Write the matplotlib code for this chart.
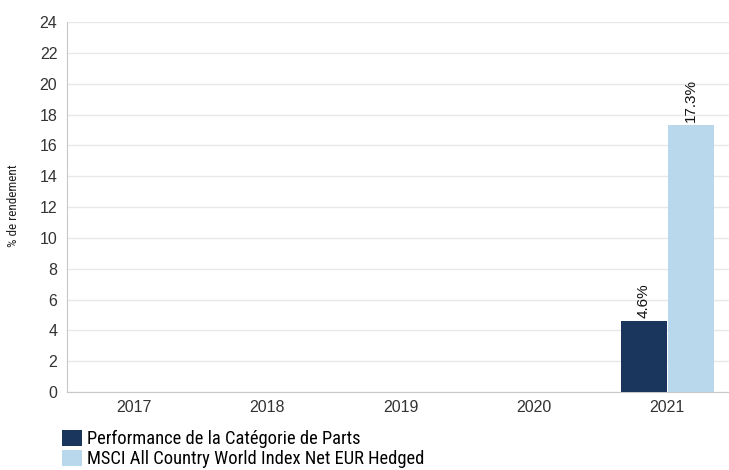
import matplotlib
matplotlib.use('Agg')
import matplotlib.pyplot as plt
from matplotlib.patches import Patch
import numpy as np

years = ['2017', '2018', '2019', '2020', '2021']
fund = [None, None, None, None, 4.6]
index = [None, None, None, None, 17.3]
series_names = ['Performance de la Catégorie de Parts',
                'MSCI All Country World Index Net EUR Hedged']
colors = ['#1b365d', '#b9d8ec']
yticks = list(range(0, 25, 2))

narrow = ['Roboto Condensed', 'IBM Plex Sans Condensed', 'DejaVu Sans']

fig = plt.figure(figsize=(7.29, 4.70), dpi=100)
ax = fig.add_axes([0.0919, 0.166, 0.9081, 0.787])

x = np.arange(len(years))
w = 0.345
for vals, off, c in [(fund, -0.175, colors[0]), (index, 0.175, colors[1])]:
    for i, v in enumerate(vals):
        if v is None:
            continue
        ax.bar(x[i] + off, v, width=w, color=c, zorder=3)
        ax.text(x[i] + off, v + 0.2, f'{v:.1f}%', rotation=90, ha='center',
                va='bottom', fontsize=11, color='#111111',
                family='Liberation Sans')

ax.set_xlim(-0.5, 4.463)
ax.set_ylim(0, 24)
ax.set_yticks(yticks)
ax.set_xticks(x)
ax.set_xticklabels(years)
ax.tick_params(axis='both', length=0, labelsize=11.5, colors='#333333')
ax.tick_params(axis='y', pad=7)
ax.tick_params(axis='x', pad=6)
for lab in ax.get_xticklabels() + ax.get_yticklabels():
    lab.set_family('Liberation Sans')
ax.grid(axis='y', color='#e8e8e8', linewidth=1, zorder=0)
for s in ['top', 'right']:
    ax.spines[s].set_visible(False)
ax.spines['left'].set_color('#c8c8c8')
ax.spines['bottom'].set_color('#c8c8c8')

fig.text(0.018, 0.562, '% de rendement', rotation=90, ha='center', va='center',
         fontsize=9.5, family=narrow, color='#222222')

handles = [Patch(facecolor=c, edgecolor='none') for c in colors]
fig.legend(handles, series_names, loc='upper left', bbox_to_anchor=(0.085, 0.085),
           frameon=False, prop={'family': narrow, 'size': 13.3},
           handlelength=1.08, handleheight=0.95, handletextpad=0.27,
           labelspacing=0.08, borderpad=0, borderaxespad=0)

fig.savefig('out.png', dpi=100)
